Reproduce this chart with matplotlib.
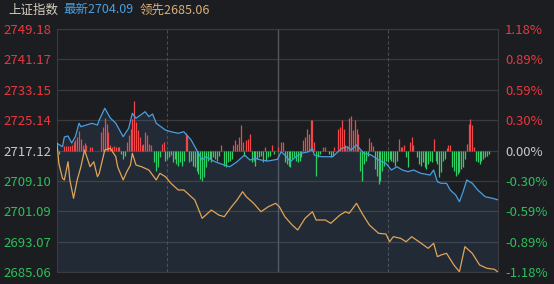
"""Shanghai Composite intraday chart (上证指数): price vs. leading index, with net bars."""
import matplotlib
matplotlib.use("Agg")
import matplotlib.pyplot as plt
import numpy as np

plt.rcParams["font.family"] = ["Noto Sans CJK SC", "DejaVu Sans"]

PREV_CLOSE = 2717.12
Y_TICKS = [2685.06, 2693.07, 2701.09, 2709.10, 2717.12, 2725.14, 2733.15, 2741.17, 2749.18]
PCT_LABELS = ["-1.18%", "-0.89%", "-0.59%", "-0.30%", "0.00%", "0.30%", "0.59%", "0.89%", "1.18%"]

# 最新 (blue) key points: minute index, price
LAST_MIN = [0, 3, 4, 6, 8, 10, 12, 13, 16, 19, 22, 23, 26, 29, 32, 34, 36, 39, 41, 43,
            48, 50, 52, 54, 59, 62, 66, 69, 73, 77, 79, 81, 86, 91, 94, 98, 102, 105, 108,
            111, 115, 120, 122, 124, 127, 130, 133, 137, 139, 140, 144, 150, 155, 158, 160,
            163, 167, 171, 175, 179, 182, 185, 188, 191, 194, 198, 203, 205, 207, 209, 212,
            214, 217, 219, 221, 223, 226, 229, 233, 237, 240]
LAST_PX = [2719.02, 2718.12, 2720.68, 2720.95, 2719.10, 2720.76, 2724.30, 2723.40, 2723.85,
           2724.30, 2723.85, 2725.17, 2728.26, 2725.70, 2724.30, 2722.53, 2720.76, 2722.98,
           2726.94, 2725.62, 2727.36, 2726.04, 2726.75, 2724.30, 2722.53, 2722.08, 2721.66,
           2722.08, 2719.89, 2716.38, 2714.61, 2715.48, 2714.16, 2713.29, 2712.84, 2714.16,
           2715.93, 2714.61, 2715.06, 2714.61, 2714.35, 2714.80, 2716.80, 2715.93, 2714.16,
           2715.48, 2716.38, 2716.80, 2717.70, 2715.93, 2715.48, 2715.48, 2717.70, 2718.12,
           2717.25, 2718.57, 2716.38, 2715.93, 2714.61, 2713.74, 2711.97, 2712.84, 2711.97,
           2711.53, 2711.97, 2711.10, 2710.65, 2711.97, 2708.89, 2708.47, 2708.47, 2706.70,
           2705.38, 2703.61, 2706.25, 2709.34, 2708.47, 2706.70, 2704.93, 2704.51, 2704.09]

# 领先 (orange) key points: minute index, price
LEAD_MIN = [0, 1, 3, 4, 6, 7, 9, 11, 13, 15, 18, 20, 22, 23, 26, 29, 32, 33, 36, 38, 40,
            41, 43, 46, 50, 54, 56, 59, 62, 66, 69, 71, 75, 79, 81, 84, 88, 91, 95, 98, 101,
            103, 107, 111, 115, 119, 121, 124, 128, 131, 135, 139, 141, 146, 149, 154, 157,
            159, 163, 166, 170, 175, 179, 181, 183, 187, 190, 193, 197, 202, 205, 207, 209,
            212, 216, 219, 222, 226, 230, 234, 238, 240]
LEAD_PX = [2719.00, 2713.74, 2709.78, 2709.34, 2714.16, 2709.34, 2704.51, 2709.34, 2712.84,
           2717.25, 2712.84, 2714.16, 2710.21, 2711.10, 2717.25, 2717.70, 2715.48, 2712.84,
           2709.34, 2711.53, 2713.29, 2716.38, 2713.29, 2712.84, 2711.97, 2709.34, 2711.10,
           2710.21, 2708.47, 2706.70, 2706.70, 2705.83, 2704.06, 2699.23, 2700.10, 2701.42,
           2700.10, 2699.65, 2702.29, 2704.06, 2706.25, 2704.93, 2703.19, 2700.97, 2702.29,
           2703.19, 2702.29, 2699.65, 2697.46, 2696.14, 2699.23, 2700.97, 2698.78, 2698.78,
           2697.91, 2700.10, 2700.97, 2700.55, 2703.19, 2700.55, 2697.46, 2695.27, 2695.09,
           2693.05, 2694.37, 2693.95, 2693.05, 2694.37, 2693.05, 2691.31, 2692.63, 2689.10,
           2689.55, 2689.99, 2686.91, 2685.14, 2691.74, 2689.99, 2686.91, 2686.04, 2685.78,
           2685.06]

# net bars: runs of consecutive minutes (start minute, values in bar units)
BAR_STARTS = [1, 4, 18, 24, 35, 38, 47, 53, 57, 59, 70, 72, 89, 91, 96, 106, 113, 114, 117,
              118, 120, 122, 124, 134, 141, 145, 148, 151, 165, 170, 173, 186, 188, 190, 192,
              196, 205, 206, 212, 215, 223, 228, 240]
BAR_RUNS = [
    [-3.3],
    [4.3, 4.3, 4.3, 4.3, 5, 8.3, 10, 13.3, 19, 11.7, 5.7, 7.3, 5],
    [3.3, 3.3],
    [18.3, 23.3, 32.3, 26.7, 18.3, 5, 3.3, 4, 3.3, 3.3, 3.3],
    [-3.3, -8.3, -5],
    [8.3, 15, 21.7, 31.7, 49, 28.3, 20, 13.3, 5],
    [6.7, 18.3, 15.7, 6.7, 5],
    [-11.7, -20, -16.7, -6.7],
    [6.7, 8.3],
    [-10, -8.3, -6.7, -4.3, -11.7, -8.3, -13.3, -15, -11.7, -15, -10],
    [17.3, 15],
    [-11.7, -10, -15, -16.7, -20, -23.3, -28.3, -30, -26.7, -16.7, -10, -8.3, -11.7, -6.7,
     -8.3, -10, -5],
    [5.7],
    [-15, -16.7, -11.7, -10, -8.3],
    [5, 10, 6.7, 13.3, 25, 8.3, -5, 10, 11.7, 16.7],
    [-11.7, -10, -15, -8.3, -6.7, -5, -11.7],
    [3.3],
    [-10, -6.7, -5],
    [5],
    [-3.3],
    [3.3],
    [8.3, 8.3],
    [-11.7, -13.3, -15, -16.7, -8.3, -6.7, -10, -11.7, -10, -6.7],
    [10, 13.3, 21.7, 16.7, 30.7, 30, 8.3],
    [-25, -6.7, -3.3],
    [3.3, 3.3],
    [-3.3, -6.7, -5],
    [3.3, 0, 21.7, 23.3, 30, 21.7, 5, 3.3, 32.3, 34.3, 20, 30, 21.7, 16.7],
    [-20, -30, -13.3, -10, -5],
    [12.3, 8.3, 4.3],
    [-18.3, -25, -33.3, -30, -20, -15, -10, -11.7, -8.3, -10, -11.7, -15, -10],
    [11.7, 3.3],
    [3.3, 5],
    [-6.7, -16.7],
    [8.3, 13.3, 5],
    [-6.7, -13.3, -15, -11.7, -16.7, -18.3, -13.3, -10, -11.7],
    [11.7],
    [-10, -13.3, -26.7, -21.7, -10, -8.3],
    [2.3, 5, 5],
    [-16.7, -20, -25, -23.3, -21.7, -18.3, -16.7, -8.3],
    [6.7, 26.7, 31.7, 25, 3.3],
    [-10, -11.7, -13.3, -10, -8.3, -6.7, -5, -3.3],
    [-8.3],
]

BG = "#1c1d21"
GRID = "#3a3b40"
RED = "#e8383d"
GREEN = "#2dbf5a"
BLUE = "#4a9fe0"
ORANGE = "#e0a458"
BAR_SCALE = 0.264  # bar units -> index points


def main():
    bars = np.zeros(241)
    for start, run in zip(BAR_STARTS, BAR_RUNS):
        bars[start:start + len(run)] = run

    fig = plt.figure(figsize=(5.54, 2.84), dpi=100, facecolor=BG)
    ax = fig.add_axes([57 / 554, 1 - 272 / 284, 441 / 554, 243 / 284], facecolor=BG)
    ax.set_xlim(0, 240)
    ax.set_ylim(Y_TICKS[0], Y_TICKS[-1])

    for y in Y_TICKS:
        ax.axhline(y, color=GRID, lw=0.9, zorder=0)
    for m in (60, 180):
        ax.axvline(m, color="#4a4b50", lw=0.8, ls=(0, (3, 2)), zorder=0)
    ax.axvline(120, color="#55565b", lw=1.0, zorder=0)
    for s in ax.spines.values():
        s.set_color(GRID)

    minutes = np.arange(241)
    up = bars > 0
    dn = bars < 0
    ax.vlines(minutes[up], PREV_CLOSE, PREV_CLOSE + bars[up] * BAR_SCALE,
              color="#f04848", lw=0.9, zorder=2)
    ax.vlines(minutes[dn], PREV_CLOSE, PREV_CLOSE + bars[dn] * BAR_SCALE,
              color="#2ed065", lw=0.9, zorder=2)

    ax.fill_between(LAST_MIN, LAST_PX, Y_TICKS[0], color="#4a7fb0", alpha=0.14, lw=0, zorder=1)
    ax.plot(LAST_MIN, LAST_PX, color=BLUE, lw=0.9, zorder=3)
    ax.plot(LEAD_MIN, LEAD_PX, color=ORANGE, lw=0.9, zorder=3)

    ax.set_xticks([])
    ax.set_yticks(Y_TICKS)
    ax.set_yticklabels([f"{v:.2f}" for v in Y_TICKS], fontsize=9.5)
    ax.tick_params(axis="y", length=0, pad=4)
    for lab, v in zip(ax.get_yticklabels(), Y_TICKS):
        lab.set_color(RED if v > PREV_CLOSE else GREEN if v < PREV_CLOSE else "#c8c8c8")

    ax2 = ax.twinx()
    ax2.set_ylim(ax.get_ylim())
    ax2.set_yticks(Y_TICKS)
    ax2.set_yticklabels(PCT_LABELS, fontsize=9.5)
    ax2.tick_params(axis="y", length=0, pad=5)
    for lab, v in zip(ax2.get_yticklabels(), Y_TICKS):
        lab.set_color(RED if v > PREV_CLOSE else GREEN if v < PREV_CLOSE else "#c8c8c8")
    for s in ax2.spines.values():
        s.set_visible(False)

    fig.text(8 / 554, 1 - 10 / 284, "上证指数", color="#d6cfc0", fontsize=9, va="center")
    fig.text(63 / 554, 1 - 10 / 284, f"最新{LAST_PX[-1]:.2f}", color=BLUE, fontsize=9, va="center")
    fig.text(140 / 554, 1 - 10 / 284, f"领先{LEAD_PX[-1]:.2f}", color="#d8b07a", fontsize=9,
             va="center")

    fig.savefig("out.png", dpi=100, facecolor=BG)


if __name__ == "__main__":
    main()
